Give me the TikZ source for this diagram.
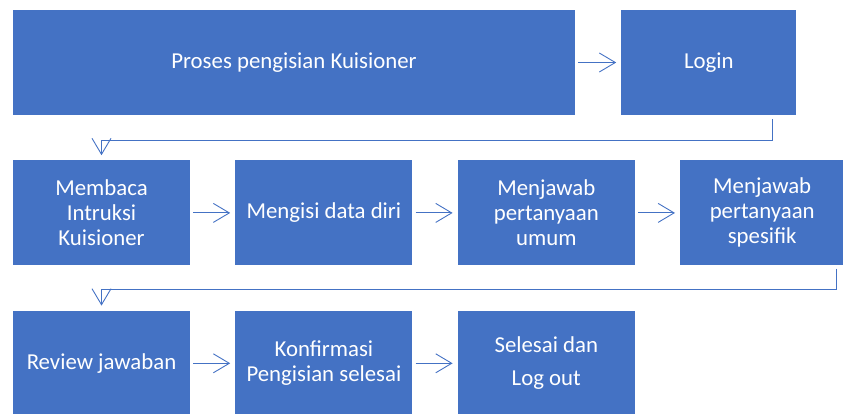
\documentclass[tikz,border=0pt]{standalone}
\usepackage{fontspec}
\setmainfont{Carlito}
\usetikzlibrary{arrows.meta, positioning}
\definecolor{boxblue}{HTML}{4472C4}

\begin{document}
\begin{tikzpicture}[
  font=\fontsize{22.8}{25}\selectfont,
  node distance=45pt and 45pt,
  every node/.style={align=center},
  stepbox/.style={fill=boxblue, text=white, inner sep=3pt,
                  minimum height=105pt, minimum width=177pt},
  arr/.style={-{Straight Barb[length=16pt, width=19pt]}, draw=boxblue,
              line width=0.9pt, shorten <=3pt, shorten >=5pt},
  turn/.style={-{Straight Barb[length=16pt, width=19pt]}, draw=boxblue,
               line width=0.9pt}
]
\useasboundingbox (0,0) rectangle (843pt,-413pt);

% baris pertama
\node[stepbox, minimum width=562pt] (proses) at (294pt,-62.5pt) {Proses pengisian Kuisioner};
\node[stepbox, minimum width=175pt, right=46pt of proses] (login) {Login};
\draw[arr] (proses) -- (login);

% baris kedua
\node[stepbox, below=45pt of proses.south west, anchor=north west] (membaca) {Membaca\\Intruksi\\Kuisioner};
\node[stepbox, right=of membaca] (mengisi) {Mengisi data diri};
\node[stepbox, right=of mengisi] (umum) {Menjawab\\pertanyaan\\umum};
\node[stepbox, minimum width=164pt, right=of umum] (spesifik) {Menjawab\\pertanyaan\\spesifik};
\draw[arr] (membaca) -- (mengisi);
\draw[arr] (mengisi) -- (umum);
\draw[arr] (umum) -- (spesifik);

% baris ketiga
\node[stepbox, below=of membaca] (review) {Review jawaban};
\node[stepbox, right=of review] (konfirmasi) {Konfirmasi\\Pengisian selesai};
\node[stepbox, right=of konfirmasi] (selesai) {Selesai dan\\[8pt]Log out};
\draw[arr] (review) -- (konfirmasi);
\draw[arr] (konfirmasi) -- (selesai);

% sambungan antar baris
\draw[turn] ([xshift=64pt,yshift=-4pt]login.south) |- ([yshift=20pt]membaca.north) -- ([yshift=5pt]membaca.north);
\draw[turn] ([xshift=74pt,yshift=-3pt]spesifik.south) |- ([yshift=21pt]review.north) -- ([yshift=5pt]review.north);

\end{tikzpicture}
\end{document}
